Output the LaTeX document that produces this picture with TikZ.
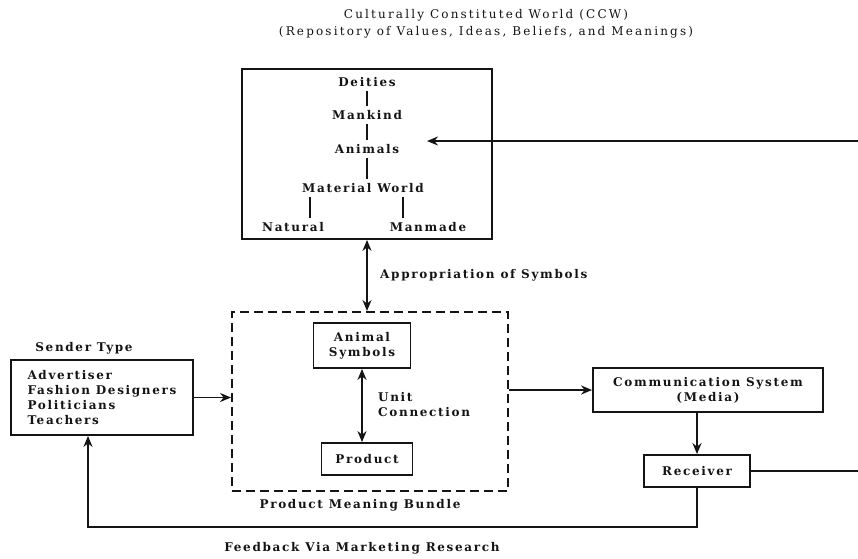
\documentclass[tikz,border=0pt]{standalone}
\usepackage{fontspec}
\setmainfont{DejaVu Serif}
\newfontfamily\diafont[LetterSpace=14]{DejaVu Serif}
\newfontfamily\headfont[LetterSpace=18]{DejaVu Serif}
\usetikzlibrary{arrows.meta,positioning,calc}
\definecolor{inkblack}{RGB}{20,20,20}

\tikzset{
  lbl/.style={font=\diafont\bfseries\fontsize{12}{15}\selectfont, inner sep=0pt, text=inkblack},
  term/.style={lbl, text height=8pt, text depth=0pt, inner sep=5pt},
  boxed/.style={draw=inkblack, line width=1.8pt, lbl, align=center},
  link/.style={draw=inkblack, line width=1.8pt},
  arr/.style={link, -{Stealth[length=11pt,width=9pt]}},
  darr/.style={link, {Stealth[length=11pt,width=9pt]}-{Stealth[length=11pt,width=9pt]}},
}

\begin{document}
\begin{tikzpicture}[x=1pt,y=-1pt]
  \useasboundingbox (0,0) rectangle (858,558);

  \node[font=\headfont\fontsize{12}{17}\selectfont, align=center, text=inkblack] (title) at (486,24)
    {Culturally Constituted World (CCW)\\(Repository of Values, Ideas, Beliefs, and Meanings)};

  % culturally constituted world
  \node[boxed, minimum width=250pt, minimum height=170pt] (ccw) at (367,154) {};
  \node[term] (deities) at (367,82) {Deities};
  \node[term] (mankind) at (367,115) {Mankind};
  \node[term] (animals) at (367,149) {Animals};
  \node[term] (matworld) at (363,188) {Material World};
  \node[term] (natural) at (293,227) {Natural};
  \node[term] (manmade) at (428,227) {Manmade};
  \draw[link] (deities) -- (mankind);
  \draw[link] (mankind) -- (animals);
  \draw[link] (animals.south -| mankind) -- (matworld.north -| mankind);
  \draw[link] ([xshift=17pt]natural.north) -- ([xshift=17pt]natural.north |- matworld.south);
  \draw[link] ([xshift=-25pt]manmade.north) -- ([xshift=-25pt]manmade.north |- matworld.south);

  % product meaning bundle
  \node[draw=inkblack, line width=1.9pt, dash pattern=on 9pt off 5pt,
        minimum width=276pt, minimum height=179pt] (bundle) at (370,401.5) {};
  \node[boxed, minimum width=97pt, minimum height=45pt] (symbols) at (362,345.5) {Animal\\Symbols};
  \node[boxed, minimum width=91pt, minimum height=32pt] (product) at (367,459) {Product};
  \node[lbl] (bundlelbl) at (360,505) {Product Meaning Bundle};
  \node[lbl, align=left, anchor=west] (unitlbl) at (378,405) {Unit\\Connection};
  \draw[darr] (symbols.south) -- (symbols.south |- product.north);

  \draw[darr] (ccw.south) -- (ccw.south |- bundle.north);
  \node[lbl, anchor=west] (approlbl) at (380,275) {Appropriation of Symbols};

  % sender
  \node[boxed, align=left, minimum width=182pt, minimum height=75pt] (sender) at (102,397.5)
    {Advertiser\\Fashion Designers\\Politicians\\Teachers};
  \node[lbl] (senderlbl) at (84,348) {Sender Type};
  \draw[arr] (sender.east) -- (sender.east -| bundle.west);

  % media and receiver
  \node[boxed, minimum width=230pt, minimum height=44pt] (comm) at (708,390)
    {Communication System\\(Media)};
  \node[boxed, minimum width=106pt, minimum height=32pt] (receiver) at (697,471) {Receiver};
  \draw[arr] (bundle.east |- comm.west) -- (comm.west);
  \draw[arr] (receiver.north |- comm.south) -- (receiver.north);

  % loop back to the CCW
  \coordinate (edgelow) at (858,468);
  \coordinate (edgetop) at (858,141);
  \coordinate (ccwin) at (427,141);
  \draw[link] (receiver.east) -- (receiver.east -| edgelow);
  \draw[arr] (edgetop) -- (ccwin);

  % feedback
  \coordinate (fbrow) at (0,527);
  \draw[arr] (receiver.south) -- (receiver.south |- fbrow)
    -- ([xshift=-14pt]sender.south |- fbrow) -- ([xshift=-14pt]sender.south);
  \node[lbl] (fblbl) at (362,548) {Feedback Via Marketing Research};
\end{tikzpicture}
\end{document}
